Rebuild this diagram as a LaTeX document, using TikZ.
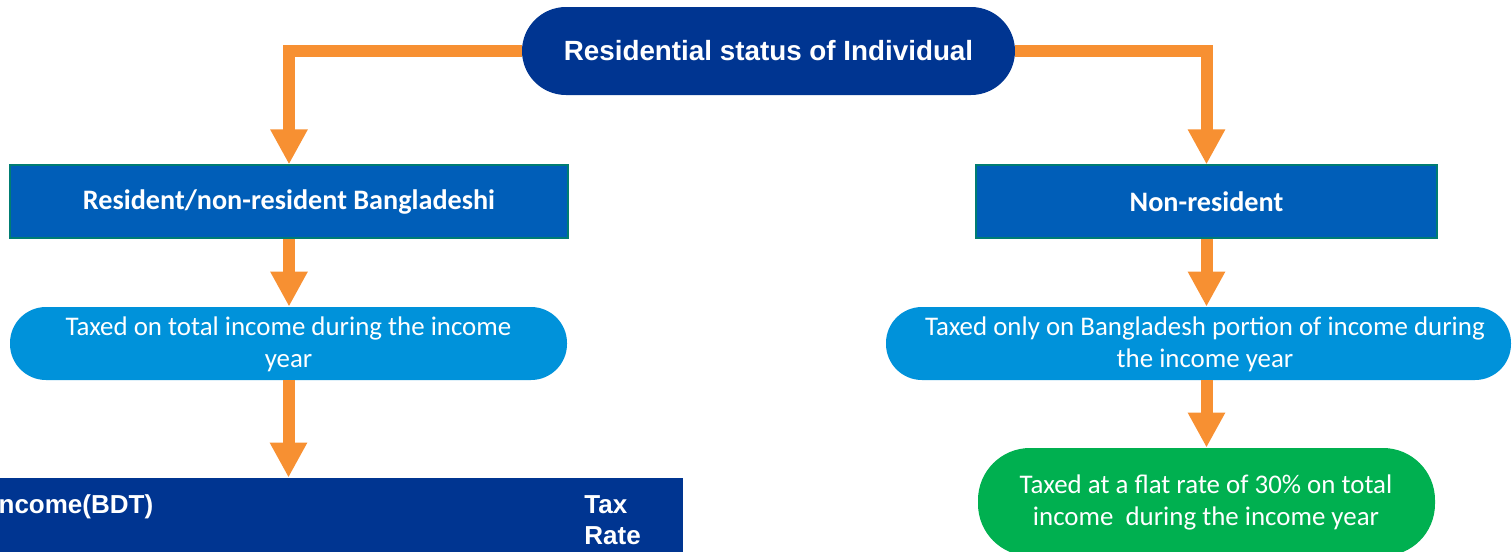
\documentclass[tikz,border=0pt]{standalone}
\usepackage{fontspec}
\setmainfont{Carlito}
\newfontfamily\arialf{Liberation Sans}
\usetikzlibrary{arrows.meta,backgrounds}
\definecolor{navy}{RGB}{0,53,145}
\definecolor{midblue}{RGB}{0,94,184}
\definecolor{lightblue}{RGB}{0,146,218}
\definecolor{okgreen}{RGB}{0,176,80}
\definecolor{orng}{RGB}{247,144,50}
\definecolor{tealedge}{RGB}{0,125,115}
\tikzset{
  titlebox/.style={fill=navy, rounded corners=22pt, minimum width=246.5pt, minimum height=44pt, text=white, font=\arialf\bfseries\fontsize{13.9}{16}\selectfont, inner sep=0pt},
  catbox/.style={fill=midblue, draw=tealedge, line width=0.6pt, minimum height=36.5pt, text=white, font=\bfseries\fontsize{14.1}{16}\selectfont, inner sep=0pt},
  pillbox/.style={fill=lightblue, rounded corners=18pt, minimum height=36.5pt, inner sep=0pt},
  pilltext/.style={text=white, font=\fontsize{13.45}{16}\selectfont, align=center, inner sep=0pt},
  greenbox/.style={fill=okgreen, rounded corners=26pt, minimum width=228.5pt, minimum height=54pt, inner sep=0pt},
  tablebox/.style={fill=navy, minimum width=346.5pt, minimum height=46pt, inner sep=0pt},
  tabletext/.style={text=white, font=\arialf\bfseries\fontsize{13}{15.5}\selectfont, inner sep=0pt},
  flow/.style={draw=orng, line width=6pt, -{Triangle[width=17.5pt,length=17.5pt]}}
}
\begin{document}
\begin{tikzpicture}[x=0.5pt,y=-0.5pt]
\useasboundingbox (0,0) rectangle (1512,552);
\clip (0,0) rectangle (1512,552);
% nodes
\node[titlebox] (top) at (768.5,51) {\raisebox{-1pt}{Residential status of Individual}};
\node[catbox, minimum width=279pt] (lbox) at (289,201.5) {\raisebox{-1pt}{Resident/non-resident Bangladeshi}};
\node[catbox, minimum width=230.5pt] (rbox) at (1206.5,201.5) {\raisebox{-1pt}{Non-resident}};
\node[pillbox, minimum width=278.5pt] (lpill) at (288.5,343.5) {};
\node[pilltext] (lpilltext) at (288.5,344.5) {Taxed on total income during the income\\year};
\node[pillbox, minimum width=312.5pt] (rpill) at (1198.5,343.5) {};
\node[pilltext] (rpilltext) at (1205,344.5) {Taxed only on Bangladesh portion of income during\\the income year};
\node[greenbox] (green) at (1206.5,502) {};
\node[pilltext] (greentext) at (1206,502) {Taxed at a flat rate of 30\% on total\\income\ \ during the income year};
\node[tablebox] (table) at (336.5,524) {};
\node[tabletext, anchor=base west] (inc) at (-9,513) {Income(BDT)};
\node[tabletext, align=left, anchor=west] (rate) at (584,520.5) {Tax\\Rate};
% connectors
\begin{scope}[on background layer]
\draw[flow] (top.west) -| (lbox.north);
\draw[flow] (top.east) -| (rbox.north);
\end{scope}
\draw[flow] (lbox.south) -- (lpill.north -| lbox.south);
\draw[flow] (lpill.south) -- (table.north -| lpill.south);
\draw[flow] (rbox.south) -- (rpill.north -| rbox.south);
\draw[flow] (green.north |- rpill.south) -- (green.north);
\end{tikzpicture}
\end{document}
